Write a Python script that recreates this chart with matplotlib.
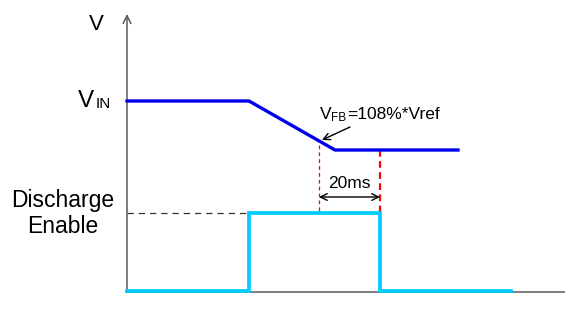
import matplotlib.pyplot as plt

plt.rcParams['font.family'] = ['Liberation Sans', 'DejaVu Sans']

# timing diagram, drawn in a pixel-like coordinate system (y grows downward)
vin_t = [127, 249, 335, 458]
vin_v = [101, 101, 150, 150]

dis_t = [127, 249, 249, 380, 380, 511]
dis_v = [291, 291, 213, 213, 291, 291]

t_fb = 319      # point where VFB reaches 108%*Vref
t_end = 380     # 20 ms later
y_fb = 145
y_low = 150
y_high = 213
y_span = 197

fig = plt.figure(figsize=(5.65, 3.16), dpi=100)
ax = fig.add_axes([0, 0, 1, 1])
ax.set_xlim(0, 565)
ax.set_ylim(316, 0)
ax.axis('off')

axis_col = '#5a5a5a'
# axes
ax.plot([127, 565], [292, 292], color=axis_col, lw=1.1, zorder=1)
ax.annotate('', xy=(127, 14), xytext=(127, 292),
            arrowprops=dict(arrowstyle='->', color=axis_col, lw=1.1,
                            mutation_scale=14, shrinkA=0, shrinkB=0))

# signals
ax.plot(vin_t, vin_v, color='#0000ee', lw=2.4, solid_joinstyle='miter', zorder=3)
ax.plot(dis_t, dis_v, color='#00ccff', lw=2.7, solid_joinstyle='miter', zorder=3)

# guides
ax.plot([127, 249], [y_high, y_high], color='#333333', lw=0.9, ls=(0, (5, 4)), zorder=2)
ax.plot([t_fb, t_fb], [y_fb, y_high], color='#ff0000', lw=0.9, ls=(0, (3, 2.5)), zorder=2)
ax.plot([t_end, t_end], [y_low, y_high], color='#ff0000', lw=1.6, ls=(0, (3, 2)), zorder=2)
ax.annotate('', xy=(t_end, y_span), xytext=(t_fb, y_span),
            arrowprops=dict(arrowstyle='<->', color='black', lw=1.0,
                            mutation_scale=12, shrinkA=0, shrinkB=0))
ax.text((t_fb + t_end) / 2, 183, '20ms', fontsize=12.5, ha='center', va='center')

# VFB annotation
ax.annotate('', xy=(322, 140), xytext=(350, 127),
            arrowprops=dict(arrowstyle='->', color='black', lw=1.0,
                            mutation_scale=12, shrinkA=0, shrinkB=0))
ax.text(320, 119, 'V', fontsize=12.5, ha='left', va='baseline')
ax.text(331.5, 121, 'FB', fontsize=8.5, ha='left', va='baseline')
ax.text(347, 119, '=108%*Vref', fontsize=12.5, ha='left', va='baseline')

# labels
ax.text(96, 30, 'V', fontsize=16, ha='center', va='baseline')
ax.text(78, 107, 'V', fontsize=17.5, ha='left', va='baseline')
ax.text(95.5, 108, 'IN', fontsize=11, ha='left', va='baseline')
ax.text(63, 207, 'Discharge', fontsize=16.5, ha='center', va='baseline')
ax.text(63, 233, 'Enable', fontsize=16.5, ha='center', va='baseline')

fig.savefig('out.png', dpi=100)
